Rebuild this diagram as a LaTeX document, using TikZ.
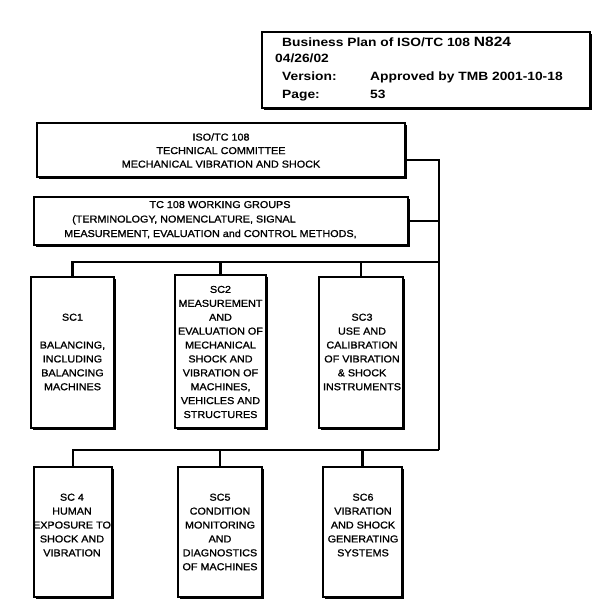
\documentclass[tikz,border=0pt]{standalone}
\usepackage{fontspec}
\setmainfont{Liberation Sans}
\newfontfamily\bodyfont[FakeStretch=1.08, FakeBold=1.2]{Liberation Sans}
\newfontfamily\hdrfont[FakeStretch=1.15]{Liberation Sans}
\usetikzlibrary{shadows}
\tikzset{
  box/.style={draw=black, line width=1.4pt, fill=white, inner sep=0pt,
    drop shadow={shadow xshift=1.6pt, shadow yshift=-1.6pt, opacity=1, fill=black}},
  conn/.style={draw=black, line width=2.4pt},
  body/.style={font=\bodyfont\fontsize{10}{13.9}\selectfont, align=center, inner sep=0pt},
  topt/.style={font=\bodyfont\fontsize{10}{13.5}\selectfont, align=center, inner sep=0pt},
  hdr/.style={font=\hdrfont\bfseries\fontsize{12}{14}\selectfont, inner sep=0pt, anchor=base west},
}
\begin{document}
\begin{tikzpicture}[x=1pt,y=-1pt]
\useasboundingbox[fill=white] (0,0) rectangle (600,602);

% header box
\node[box, minimum width=328pt, minimum height=76pt] (hdrbox) at (426,70) {};
\node[hdr] (h1) at (282,47) {Business Plan of ISO/TC 108 {\fontsize{13.5}{14}\selectfont N824}};
\node[hdr] (h2) at (275,63) {04/26/02};
\node[hdr] (h3) at (282,81) {Version:};
\node[hdr] (h3b) at (370,81) {Approved by TMB 2001-10-18};
\node[hdr] (h4) at (282,98) {Page:};
\node[hdr] (h4b) at (370,98) {53};

% junction coordinates
\coordinate (j2) at (439,450);
\coordinate (b1) at (439,262);

% top box
\node[box, minimum width=368pt, minimum height=54pt] (top) at (221,150) {};
\node[topt] (topt) at (221,150.5) {ISO/TC 108\\TECHNICAL COMMITTEE\\MECHANICAL VIBRATION AND SHOCK};

% working groups
\node[box, minimum width=374pt, minimum height=48pt] (wg) at (221,221) {};
\node[body, anchor=base] (wg1) at (220,208) {TC 108 WORKING GROUPS};
\node[body, anchor=base west] (wg2) at (72,222.5) {(TERMINOLOGY, NOMENCLATURE, SIGNAL};
\node[body, anchor=base west] (wg3) at (64,237) {MEASUREMENT, EVALUATION and CONTROL METHODS,};

% row 1
\node[box, minimum width=83pt, minimum height=151pt] (sc1) at (72.5,352.5) {};
\node[box, minimum width=91pt, minimum height=153pt] (sc2) at (220.5,351.5) {};
\node[box, minimum width=84pt, minimum height=151pt] (sc3) at (361,352.5) {};
\node[body] (sc1t) at (72.5,352) {SC1\\ \mbox{}\\BALANCING,\\INCLUDING\\BALANCING\\MACHINES};
\node[body] (sc2t) at (220.5,352) {SC2\\MEASUREMENT\\AND\\EVALUATION OF\\MECHANICAL\\SHOCK AND\\VIBRATION OF\\MACHINES,\\VEHICLES AND\\STRUCTURES};
\node[body] (sc3t) at (362,352) {SC3\\USE AND\\CALIBRATION\\OF VIBRATION\\\& SHOCK\\INSTRUMENTS};

% row 2
\node[box, minimum width=78pt, minimum height=130pt] (sc4) at (73,532) {};
\node[box, minimum width=84pt, minimum height=130pt] (sc5) at (220,532) {};
\node[box, minimum width=79pt, minimum height=130pt] (sc6) at (362.5,532) {};
\node[body, anchor=north] (sc4t) at (72,493.5) {SC 4\\HUMAN\\EXPOSURE TO\\SHOCK AND\\VIBRATION};
\node[body, anchor=north] (sc5t) at (220,493.5) {SC5\\CONDITION\\MONITORING\\AND\\DIAGNOSTICS\\OF MACHINES};
\node[body, anchor=north] (sc6t) at (363,493.5) {SC6\\VIBRATION\\AND SHOCK\\GENERATING\\SYSTEMS};

% connectors
\draw[conn] ([yshift=-10pt]top.east) -| (j2);
\draw[conn] (wg.east) -- (wg.east -| j2);
\draw[conn] (sc1.north) |- (b1);
\draw[conn] (sc2.north) -- (sc2.north |- b1);
\draw[conn] (sc3.north) -- (sc3.north |- b1);
\draw[conn] (sc4.north) |- (j2);
\draw[conn] (sc5.north) -- (sc5.north |- j2);
\draw[conn] (sc6.north) -- (sc6.north |- j2);
\end{tikzpicture}
\end{document}
